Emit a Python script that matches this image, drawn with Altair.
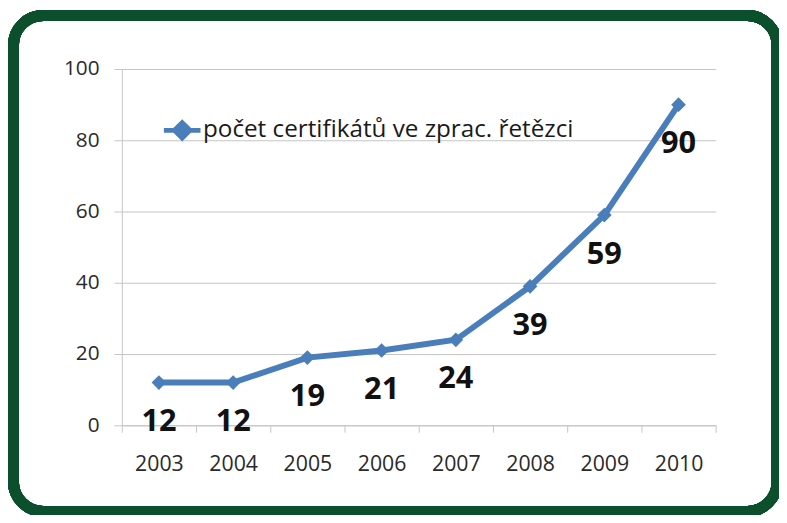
import altair as alt
import pandas as pd

years = ["2003", "2004", "2005", "2006", "2007", "2008", "2009", "2010"]
values = [12, 12, 19, 21, 24, 39, 59, 90]
series_name = "počet certifikátů ve zprac. řetězci"
y_ticks = [0, 20, 40, 60, 80, 100]

df = pd.DataFrame({"rok": years, "pocet": values, "serie": [series_name] * len(years)})

BLUE = "#4a7ebb"
GREEN = "#0b4f2d"
GRID = "#c4c4c4"
FONT = "Open Sans"

W, H = 600, 360
PL, PT = 115, 59
TOTAL_W, TOTAL_H = 779, 507
PR = TOTAL_W - PL - W
PB = TOTAL_H - PT - H

x_enc = alt.X(
    "rok:O",
    title=None,
    sort=years,
    scale=alt.Scale(paddingInner=0, paddingOuter=0),
    axis=alt.Axis(
        labelAngle=0,
        labelFont=FONT,
        labelFontSize=21.5,
        labelColor="#2a2a2a",
        labelBaseline="middle",
        labelPadding=33,
        tickSize=7,
        tickColor=GRID,
        tickBand="extent",
        domainColor=GRID,
        grid=False,
    ),
)
y_enc = alt.Y(
    "pocet:Q",
    title=None,
    scale=alt.Scale(domain=[0, 100], nice=False),
    axis=alt.Axis(
        values=y_ticks,
        labelFont=FONT,
        labelFontSize=21,
        labelColor="#2a2a2a",
        labelPadding=15,
        tickSize=8,
        tickColor=GRID,
        domainColor=GRID,
        gridColor=GRID,
        grid=True,
    ),
)

legend = alt.Legend(
    title=None,
    orient="none",
    legendX=40,
    legendY=41,
    padding=0,
    symbolType="M-1,0L1,0M0,-0.42L0.42,0L0,0.42L-0.42,0Z",
    symbolSize=1369,
    symbolStrokeWidth=5,
    symbolFillColor=BLUE,
    symbolStrokeColor=BLUE,
    labelFont=FONT,
    labelFontSize=24.5,
    labelColor="#1a1a1a",
    labelOffset=0,
    labelLimit=700,
)

base = alt.Chart(df)

frame = base.mark_rect(
    fill=None,
    stroke=GREEN,
    strokeWidth=11,
    cornerRadius=30,
    clip=False,
).encode(
    x=alt.value(-PL + 5.5),
    x2=alt.value(W + PR - 2),
    y=alt.value(-PT + 5),
    y2=alt.value(H + PB - 1),
)

line = base.mark_line(strokeWidth=6, color=BLUE).encode(
    x=x_enc,
    y=y_enc,
    color=alt.Color("serie:N", scale=alt.Scale(range=[BLUE]), legend=legend),
)

points = base.mark_point(shape="diamond", size=220, filled=True, opacity=1, color=BLUE).encode(
    x=alt.X("rok:O", sort=years),
    y="pocet:Q",
)

labels = base.mark_text(
    dy=40,
    font=FONT,
    fontSize=31,
    fontWeight="bold",
    color="#111111",
    baseline="middle",
    align="center",
).encode(
    x=alt.X("rok:O", sort=years),
    y="pocet:Q",
    text="pocet:Q",
)

chart = (
    alt.layer(frame, line, points, labels)
    .properties(
        width=W,
        height=H,
        padding={"left": PL, "top": PT, "right": PR, "bottom": PB},
        autosize=alt.AutoSizeParams(type="none"),
        background="white",
    )
    .configure_view(stroke=None)
)

chart.save("out.html", embed_options={"renderer": "svg", "actions": False})
